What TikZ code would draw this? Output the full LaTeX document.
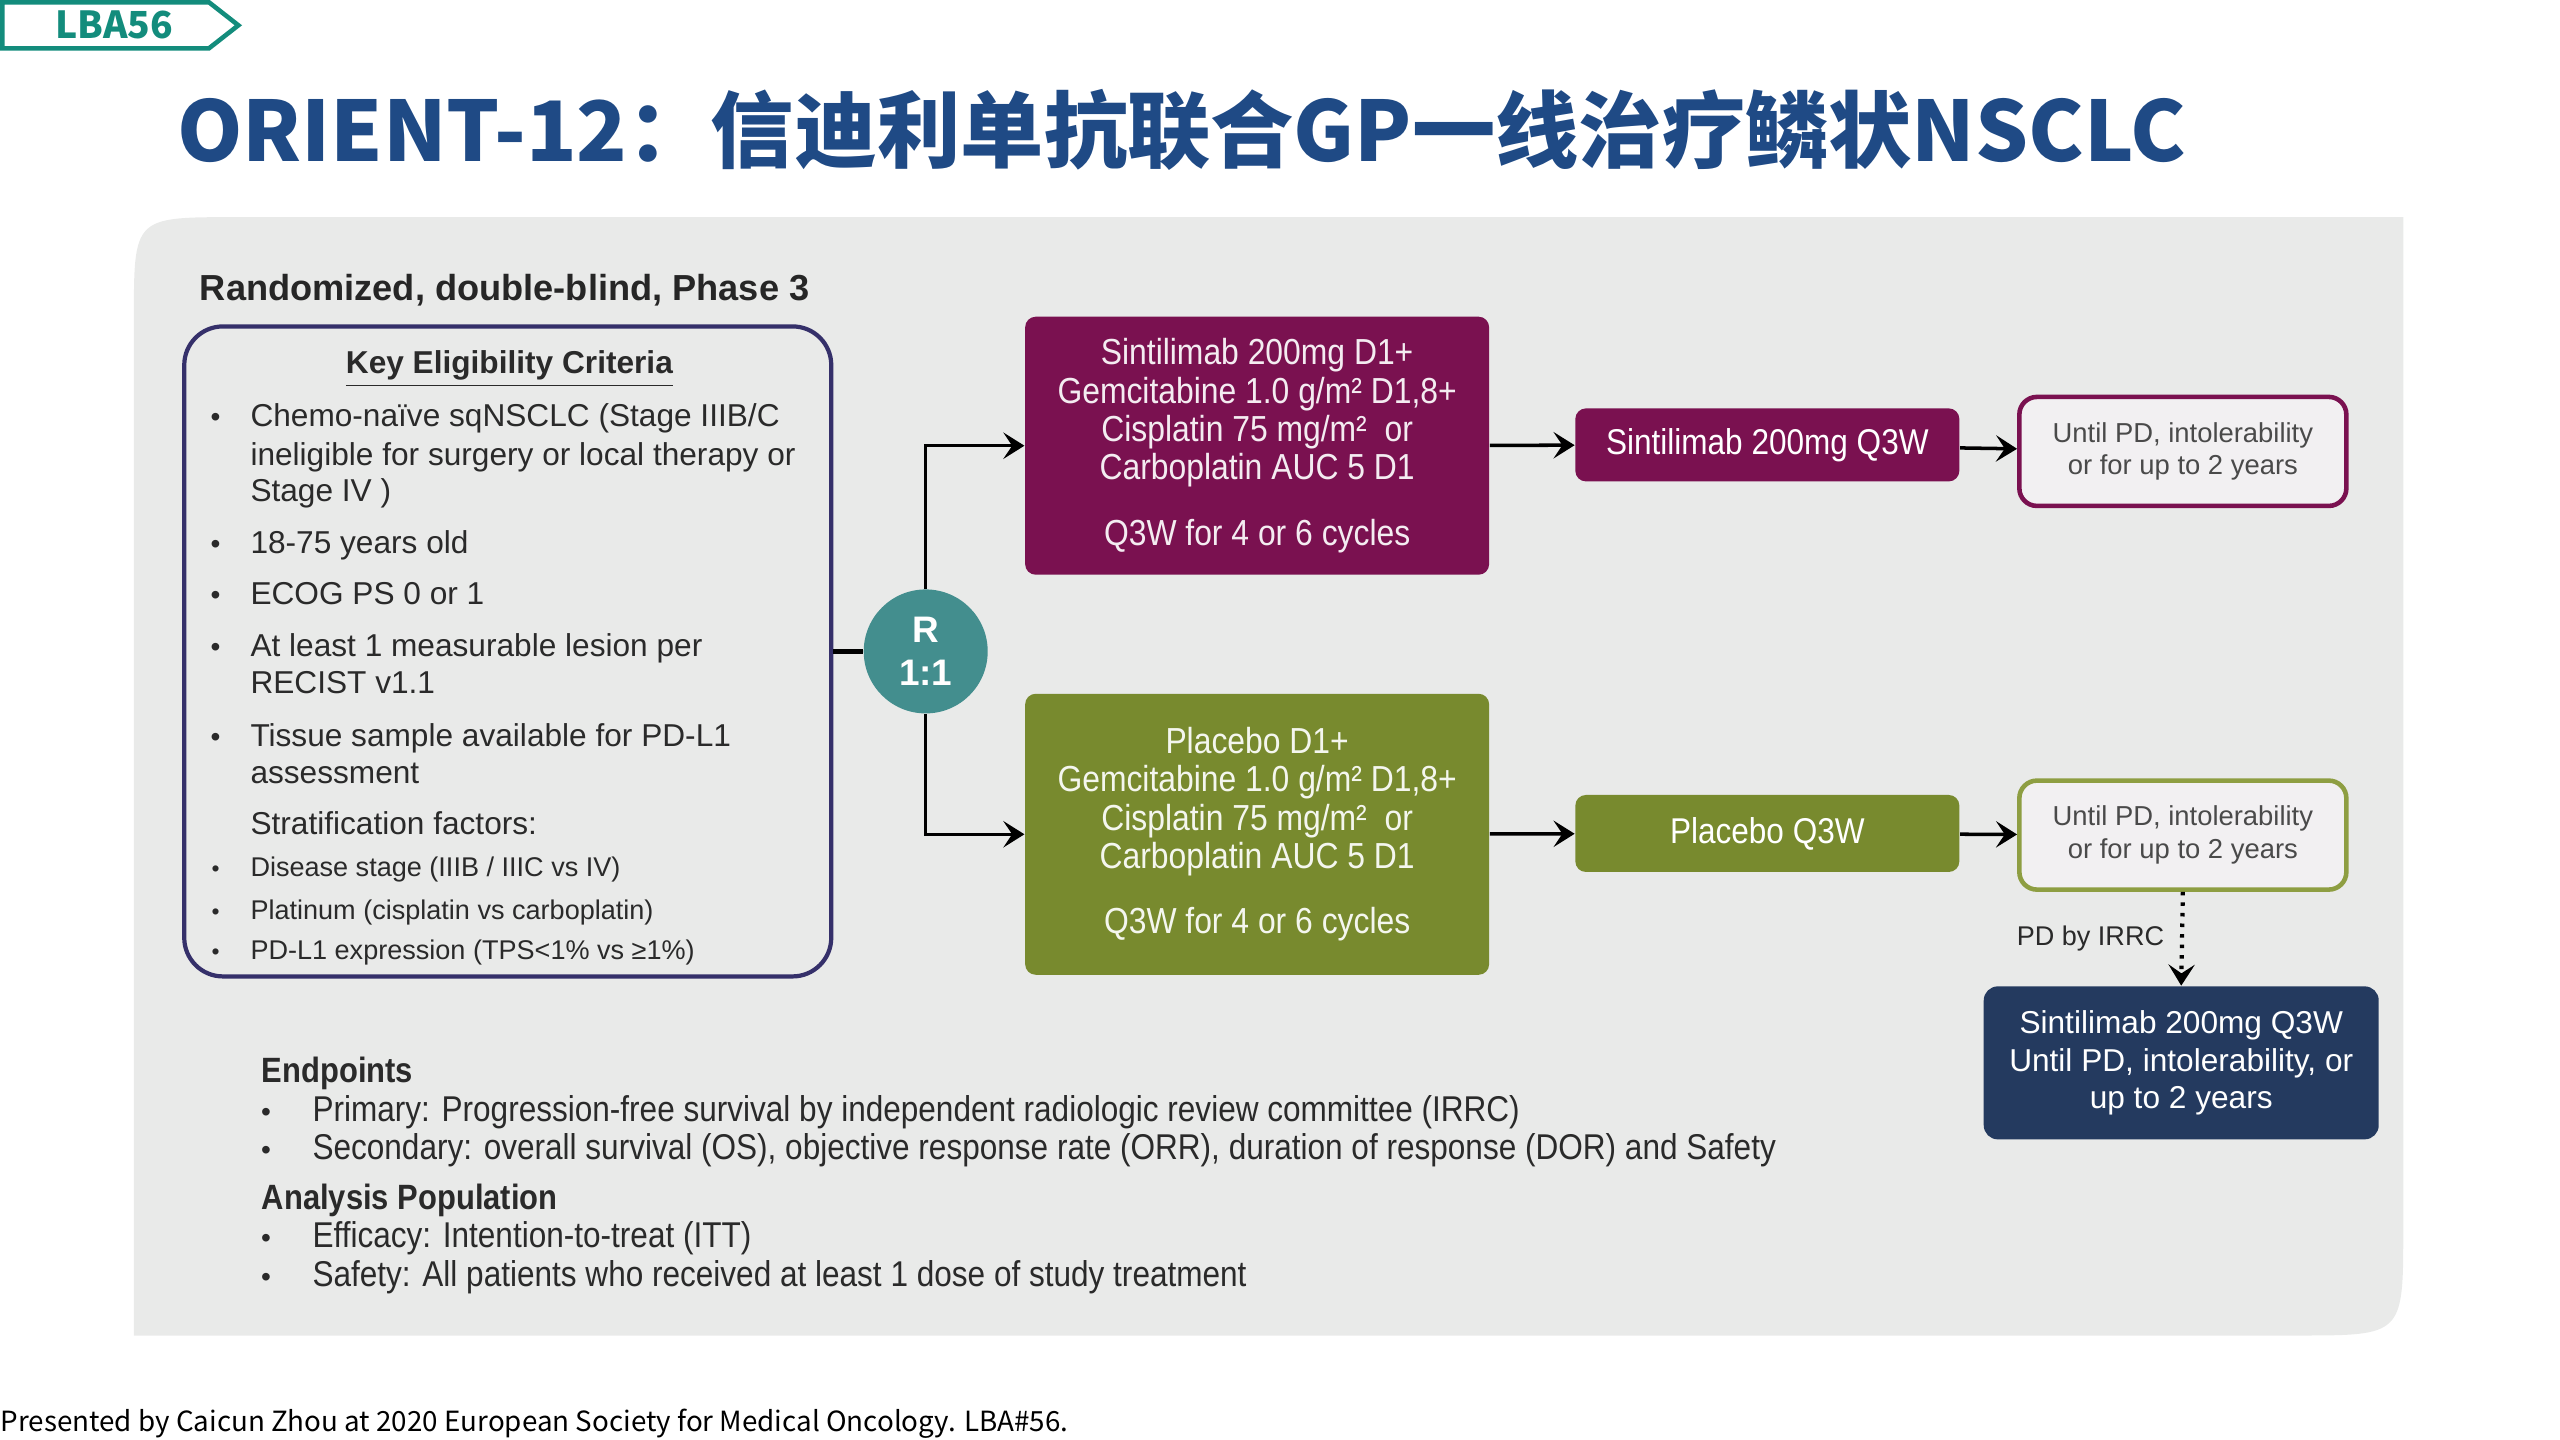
\documentclass[tikz,border=0pt]{standalone}
\usepackage{fontspec}
\setmainfont{Liberation Sans}
\newfontfamily\cjk{Noto Sans CJK SC}
\newfontfamily\narrow{Liberation Sans}[FakeStretch=0.88]
\usetikzlibrary{arrows.meta, positioning, calc}

\definecolor{tagteal}{HTML}{138C7C}
\definecolor{titleblue}{HTML}{1F4A85}
\definecolor{panelgray}{HTML}{E9EAE9}
\definecolor{eligline}{HTML}{35306A}
\definecolor{rteal}{HTML}{438E8E}
\definecolor{armpurple}{HTML}{7A1150}
\definecolor{armolive}{HTML}{788A2E}
\definecolor{olivelight}{HTML}{8E9E42}
\definecolor{navybox}{HTML}{243A5F}
\definecolor{untilfill}{HTML}{F2F0F2}
\definecolor{txtdark}{HTML}{2A2A2A}

\begin{document}
\begin{tikzpicture}[
    x=0.016327cm, y=-0.016327cm,
    arm/.style={rounded corners=3pt, minimum width=4.64cm, align=center, inner sep=0pt,
        font=\narrow\fontsize{10.3}{10.9}\selectfont},
    maint/.style={rounded corners=3pt, minimum width=3.84cm, align=center, inner sep=0pt,
        text=white, font=\narrow\fontsize{10.2}{10.9}\selectfont},
    until/.style={draw, line width=1.3pt, rounded corners=5pt, fill=untilfill, minimum width=3.27cm,
        minimum height=1.09cm, align=center, inner sep=0pt, text=txtdark!85,
        font=\fontsize{7.8}{9.3}\selectfont},
    txt/.style={anchor=base west, inner sep=0pt, text=txtdark, font=\fontsize{9}{10.7}\selectfont},
    small/.style={anchor=base west, inner sep=0pt, text=txtdark, font=\fontsize{7.7}{9}\selectfont},
    bul/.style={anchor=base, inner sep=0pt, text=txtdark, font=\fontsize{8}{9}\selectfont},
    ept/.style={anchor=base west, inner sep=0pt, text=txtdark, font=\narrow\fontsize{10.2}{11}\selectfont},
    arr/.style={line width=1pt, -{Stealth[length=6pt, width=7.5pt, inset=2.5pt]}}
]
    \useasboundingbox (0,0) rectangle (1568,882);
    % grey panel
    \fill[panelgray] (82,818) -- (82,195) .. controls (82,133) .. (144,133) -- (1472,133)
        -- (1472,753) .. controls (1472,818) .. (1407,818) -- cycle;
    % tag and title
    \draw[tagteal, line width=1.3pt] (1.4,1.4) -- (128,1.4) -- (146,15.5) -- (128,29.6) -- (1.4,29.6) -- cycle;
    \node[inner sep=0pt, text=tagteal, font=\cjk\bfseries\fontsize{10.6}{12}\selectfont] (tag) at (70,15) {LBA56};
    \node[anchor=base west, inner sep=0pt, text=titleblue, font=\cjk\bfseries\fontsize{23.7}{28}\selectfont]
        (title) at (108,99) {ORIENT-12：信迪利单抗联合GP一线治疗鳞状NSCLC};

    \node[anchor=base west, inner sep=0pt, text=black!85, font=\bfseries\fontsize{10.3}{12}\selectfont]
        (design) at (122,184) {Randomized, double-blind, Phase 3};

    % eligibility
    \node[draw=eligline, line width=1.2pt, rounded corners=11pt, minimum width=6.47cm,
        minimum height=6.5cm] (elig) at (311,399) {};
    \node[anchor=base, inner sep=0pt, text=txtdark, font=\bfseries\fontsize{9}{11}\selectfont]
        (eligtitle) at (312,229) {\underline{Key Eligibility Criteria}};
    \foreach \y/\t [count=\i] in {261/{Chemo-naïve sqNSCLC (Stage IIIB/C},
        285/{ineligible for surgery or local therapy or}, 307/{Stage IV )},
        339/{18-75 years old}, 370/{ECOG PS 0 or 1}, 402/{At least 1 measurable lesion per},
        425/{RECIST v1.1}, 457/{Tissue sample available for PD-L1}, 480/{assessment},
        511/{Stratification factors:}}
        \node[txt] (crit-\i) at (153,\y) {\t};
    \foreach \y in {261,339,370,402,457}
        \node[bul] (dot-\y) at (132,\y) {•};
    \foreach \y/\t [count=\i] in {537/{Disease stage (IIIB / IIIC vs IV)},
        563/{Platinum (cisplatin vs carboplatin)}, 588/{PD-L1 expression (TPS<1\% vs ≥1\%)}}
    {
        \node[small] (strat-\i) at (153,\y) {\t};
        \node[bul, font=\fontsize{6.5}{8}\selectfont] (sdot-\i) at (132,\y) {•};
    }

    % randomisation and arms
    \node[circle, fill=rteal, minimum size=1.24cm, inner sep=0pt, align=center, text=white,
        font=\bfseries\fontsize{10.5}{12.2}\selectfont] (R) at (567,399) {R\\1:1};
    \node[arm, fill=armpurple, text=white!92!armpurple, minimum height=2.58cm] (trtA) at (770,273)
        {Sintilimab 200mg D1+\\Gemcitabine 1.0 g/m² D1,8+\\Cisplatin 75 mg/m²\ \ or\\Carboplatin AUC 5 D1\\[7.7pt]Q3W for 4 or 6 cycles};
    \node[arm, fill=armolive, text=white!92!armolive, minimum height=2.81cm] (trtB) at (770,511)
        {Placebo D1+\\Gemcitabine 1.0 g/m² D1,8+\\Cisplatin 75 mg/m²\ \ or\\Carboplatin AUC 5 D1\\[7.7pt]Q3W for 4 or 6 cycles};
    \node[maint, fill=armpurple, minimum height=0.73cm] (mainA) at (1082.5,272.5) {Sintilimab 200mg Q3W};
    \node[maint, fill=armolive, minimum height=0.77cm] (mainB) at (1082.5,510.5) {Placebo Q3W};
    \node[until, draw=armpurple] (untilA) at (1337,276.5) {Until PD, intolerability\\or for up to 2 years};
    \node[until, draw=olivelight] (untilB) at (1337,511.5) {Until PD, intolerability\\or for up to 2 years};
    \node[rounded corners=4pt, fill=navybox, minimum width=3.95cm, minimum height=1.53cm, align=center,
        inner sep=0pt, text=white, font=\fontsize{9}{10.7}\selectfont] (cross) at (1336,651)
        {Sintilimab 200mg Q3W\\Until PD, intolerability, or\\up to 2 years};

    \draw[line width=1.6pt] (elig.east) -- (R.west);
    \draw[arr] (R.north) |- (trtA.west);
    \draw[arr] (R.south) |- (trtB.west);
    \draw[arr] (trtA) -- (mainA);
    \draw[arr] (trtB) -- (mainB);
    \draw[arr] (mainA) -- (untilA);
    \draw[arr] (mainB) -- (untilB);
    \draw[arr, dotted, line width=1.2pt] (untilB.south) -- node[left=4.5pt, inner sep=0pt, text=txtdark,
        font=\fontsize{7.7}{9}\selectfont] (irrc) {PD by IRRC} (cross.north);

    % endpoints
    \node[ept, font=\narrow\bfseries\fontsize{10}{11}\selectfont] (ep) at (160,663) {Endpoints};
    \node[ept] (ep-1) at (191,687) {Primary: Progression-free survival by independent radiologic review committee (IRRC)};
    \node[ept] (ep-2) at (191,710) {Secondary: overall survival (OS), objective response rate (ORR), duration of response (DOR) and Safety};
    \node[ept, font=\narrow\bfseries\fontsize{10}{11}\selectfont] (ap) at (160,741) {Analysis Population};
    \node[ept] (ap-1) at (191,764) {Efficacy: Intention-to-treat (ITT)};
    \node[ept] (ap-2) at (191,788) {Safety: All patients who received at least 1 dose of study treatment};
    \foreach \y in {687,710,764,788}
        \node[bul] (edot-\y) at (163,\y) {•};

    \node[anchor=base west, inner sep=0pt, text=black, font=\cjk\fontsize{7.9}{10}\selectfont] (foot) at (0,877)
        {Presented by Caicun Zhou at 2020 European Society for Medical Oncology. LBA\#56.};
\end{tikzpicture}
\end{document}
